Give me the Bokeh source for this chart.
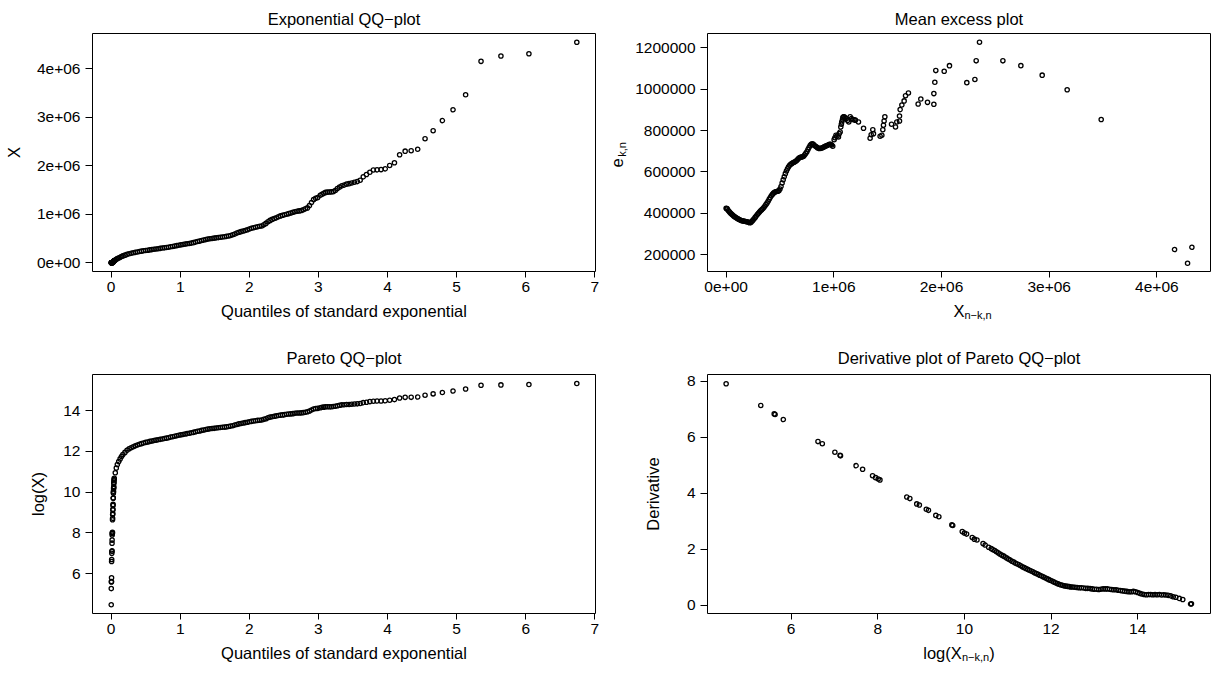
from bokeh.plotting import figure
from bokeh.models import Range1d, FixedTicker, Title
from bokeh.layouts import column, row
from bokeh.embed import file_html
from bokeh.resources import INLINE

FONT = "Liberation Sans"
TICK_SIZE = "15.5px"
TITLE_SIZE = "16.5px"
LAB_SIZE = "16.5px"
SUB_SIZE = "11px"
NBSP = "\u00a0"

# ---------------- data ----------------
# quantiles of standard exponential (x of both QQ plots)
qq_quantiles = [
    0.001, 0.002, 0.004, 0.005, 0.006, 0.007, 0.008, 0.010, 0.011, 0.012,
    0.013, 0.014, 0.015, 0.017, 0.018, 0.019, 0.020, 0.021, 0.022, 0.024,
    0.025, 0.026, 0.027, 0.028, 0.030, 0.031, 0.032, 0.033, 0.034, 0.036,
    0.037, 0.038, 0.039, 0.040, 0.041, 0.043,
    0.045, 0.06, 0.075, 0.09, 0.11, 0.13, 0.15, 0.17,
    0.20, 0.23, 0.26, 0.29, 0.32, 0.35, 0.38, 0.41, 0.44, 0.47,
    0.50, 0.53, 0.56, 0.59, 0.62, 0.65, 0.68, 0.71, 0.74, 0.77,
    0.80, 0.83, 0.86, 0.89, 0.92, 0.95, 0.98, 1.01, 1.04, 1.07,
    1.10, 1.13, 1.16, 1.19, 1.22, 1.25, 1.28, 1.31, 1.34, 1.37,
    1.40, 1.43, 1.46, 1.49, 1.52, 1.55, 1.58, 1.61, 1.64, 1.67,
    1.70, 1.73, 1.76, 1.79, 1.82, 1.85, 1.88, 1.91, 1.94, 1.97,
    2.00, 2.03, 2.06, 2.09, 2.12, 2.15, 2.18, 2.21, 2.24, 2.27,
    2.30, 2.33, 2.36, 2.39, 2.42, 2.45, 2.48, 2.51, 2.54, 2.57,
    2.60, 2.63, 2.66, 2.69, 2.72, 2.75, 2.78, 2.81, 2.84, 2.87,
    2.90, 2.93, 2.96, 2.99,
    3.027, 3.052, 3.077, 3.103, 3.130, 3.157, 3.185, 3.214, 3.244, 3.274,
    3.306, 3.339, 3.373, 3.408, 3.444, 3.482, 3.521, 3.562, 3.604, 3.649,
    3.695, 3.744, 3.795, 3.849, 3.906, 3.967, 4.031, 4.100, 4.175, 4.255,
    4.342, 4.437, 4.543, 4.660, 4.794, 4.948, 5.130, 5.353, 5.641, 6.046,
    6.739,
]

# ordered data X (millions) for the exponential QQ-plot
expqq_values_millions = [
    0, 0, 0, 0, 0, 0.001, 0.001, 0.001, 0.001, 0.001,
    0.002, 0.002, 0.003, 0.003, 0.003, 0.003, 0.006, 0.006, 0.007, 0.008,
    0.009, 0.010, 0.011, 0.012, 0.016, 0.017, 0.021, 0.022, 0.023, 0.026,
    0.027, 0.029, 0.034, 0.036, 0.039, 0.041,
    0.042, 0.055, 0.070, 0.085, 0.098, 0.113, 0.127, 0.140,
    0.155, 0.172, 0.185, 0.195, 0.205, 0.213, 0.222, 0.230, 0.238, 0.245,
    0.252, 0.258, 0.264, 0.270, 0.277, 0.283, 0.289, 0.296, 0.302, 0.306,
    0.312, 0.320, 0.328, 0.335, 0.342, 0.351, 0.360, 0.368, 0.375, 0.383,
    0.390, 0.397, 0.404, 0.413, 0.425, 0.437, 0.445, 0.456, 0.466, 0.476,
    0.486, 0.494, 0.500, 0.506, 0.512, 0.517, 0.523, 0.530, 0.535, 0.543,
    0.552, 0.562, 0.575, 0.590, 0.610, 0.627, 0.640, 0.652, 0.665, 0.680,
    0.696, 0.710, 0.722, 0.732, 0.741, 0.750, 0.758, 0.780, 0.810, 0.845,
    0.872, 0.893, 0.910, 0.925, 0.945, 0.965, 0.978, 0.988, 1.000, 1.012,
    1.025, 1.040, 1.052, 1.062, 1.068, 1.075, 1.090, 1.110, 1.130, 1.180,
    1.240, 1.300, 1.330, 1.345,
    1.39, 1.41, 1.43, 1.45, 1.455, 1.458, 1.46, 1.465, 1.49, 1.53,
    1.56, 1.585, 1.60, 1.62, 1.63, 1.645, 1.66, 1.672, 1.70, 1.77,
    1.82, 1.865, 1.912, 1.915, 1.92, 1.935, 2.006, 2.062, 2.225, 2.30,
    2.31, 2.34, 2.556, 2.722, 2.93, 3.153, 3.465, 4.152, 4.262, 4.31,
    4.545,
]

# log(X) for the Pareto QQ-plot
paretoqq_log_values = [
    4.48, 5.27, 5.60, 5.62, 5.80, 6.60, 6.70, 7.00, 7.10, 7.12,
    7.50, 7.65, 7.90, 7.97, 8.00, 8.03, 8.65, 8.72, 8.90, 8.95,
    9.12, 9.16, 9.35, 9.40, 9.70, 9.72, 9.95, 10.00, 10.05, 10.18,
    10.22, 10.28, 10.43, 10.48, 10.56, 10.62,
    10.68, 10.95, 11.18, 11.36, 11.50, 11.63, 11.75, 11.85,
    11.95, 12.05, 12.13, 12.18, 12.23, 12.27, 12.31, 12.35, 12.38, 12.41,
    12.44, 12.46, 12.49, 12.51, 12.53, 12.55, 12.57, 12.59, 12.61, 12.63,
    12.65, 12.67, 12.70, 12.72, 12.74, 12.77, 12.79, 12.81, 12.83, 12.85,
    12.87, 12.89, 12.91, 12.93, 12.96, 12.99, 13.00, 13.03, 13.05, 13.07,
    13.09, 13.11, 13.12, 13.13, 13.15, 13.16, 13.17, 13.18, 13.19, 13.20,
    13.22, 13.24, 13.26, 13.29, 13.32, 13.35, 13.37, 13.39, 13.41, 13.43,
    13.45, 13.47, 13.49, 13.50, 13.52, 13.53, 13.54, 13.57, 13.60, 13.65,
    13.68, 13.70, 13.72, 13.74, 13.76, 13.78, 13.79, 13.80, 13.82, 13.83,
    13.84, 13.85, 13.87, 13.88, 13.88, 13.89, 13.90, 13.92, 13.94, 13.98,
    14.03, 14.08, 14.10, 14.11,
    14.14, 14.16, 14.17, 14.19, 14.19, 14.19, 14.19, 14.20, 14.21, 14.24,
    14.26, 14.28, 14.29, 14.30, 14.30, 14.31, 14.32, 14.33, 14.35, 14.39,
    14.41, 14.44, 14.46, 14.47, 14.47, 14.48, 14.51, 14.54, 14.62, 14.65,
    14.65, 14.67, 14.75, 14.82, 14.89, 14.96, 15.06, 15.24, 15.26, 15.28,
    15.33,
]

# mean excess plot: thresholds X_{n-k,n} (millions) and e_{k,n} (thousands)
meanexcess_threshold_millions = [
    0.000, 0.005, 0.01, 0.02, 0.03, 0.04, 0.05, 0.06, 0.07, 0.08,
    0.09, 0.10, 0.11, 0.12, 0.13, 0.14, 0.15, 0.16, 0.17, 0.18,
    0.19, 0.20, 0.21, 0.22, 0.23, 0.24, 0.25, 0.26, 0.27, 0.28,
    0.29, 0.30, 0.31, 0.32, 0.33, 0.34, 0.35, 0.36, 0.37, 0.38,
    0.39, 0.40, 0.41, 0.42, 0.43, 0.44, 0.45, 0.46, 0.47, 0.48,
    0.49, 0.50, 0.51, 0.52, 0.53, 0.54, 0.55, 0.56, 0.57, 0.58,
    0.59, 0.60, 0.61, 0.62, 0.63, 0.64, 0.65, 0.66, 0.67, 0.68,
    0.69, 0.70, 0.71, 0.72, 0.73, 0.74, 0.75, 0.76, 0.77, 0.78,
    0.79, 0.80, 0.81, 0.82, 0.83, 0.84, 0.85, 0.86, 0.87, 0.88,
    0.89, 0.90, 0.91, 0.92, 0.93, 0.94, 0.95, 0.96, 0.97, 0.98,
    0.99,
    1.003, 1.010, 1.020, 1.030, 1.043, 1.050, 1.059, 1.065, 1.070, 1.074,
    1.080, 1.084, 1.090, 1.096, 1.105, 1.115, 1.128, 1.139, 1.152, 1.165,
    1.176, 1.188, 1.200, 1.229, 1.276, 1.337, 1.347, 1.362, 1.368, 1.430,
    1.446, 1.455, 1.461, 1.467, 1.474, 1.536, 1.573, 1.585, 1.610, 1.610,
    1.616, 1.632, 1.653, 1.666, 1.693, 1.783, 1.808, 1.870, 1.929, 1.929,
    1.938, 1.947, 2.025, 2.074, 2.235, 2.310, 2.322, 2.353, 2.570, 2.737,
    2.935, 3.167, 3.483, 4.164, 4.285, 4.325,
]
meanexcess_values_thousands = [
    425, 424, 422, 414, 408, 402, 397, 392, 388, 384,
    380, 377, 374, 371, 368, 366, 364, 363, 362, 361,
    360, 359, 357, 355, 356, 362, 368, 374, 381, 388,
    395, 401, 407, 413, 418, 423, 429, 436, 443, 450,
    459, 468, 477, 485, 492, 498, 502, 505, 506, 507,
    510, 518, 530, 547, 562, 577, 592, 605, 616, 625,
    632, 637, 641, 644, 647, 649, 653, 658, 664, 669,
    671, 672, 673, 676, 683, 690, 698, 708, 718, 727,
    733, 736, 733, 728, 724, 720, 716, 714, 713, 714,
    716, 718, 721, 724, 726, 728, 731, 734, 733, 730,
    724,
    756, 765, 777, 772, 769, 785, 793, 817, 830, 841,
    852, 862, 866, 866, 862, 858, 848, 841, 866, 858,
    853, 852, 850, 841, 811, 763, 780, 804, 785, 772,
    777, 804, 825, 846, 866, 830, 817, 841, 846, 870,
    901, 923, 943, 968, 981, 928, 952, 936, 927, 978,
    1033, 1089, 1086, 1113, 1031, 1046, 1136, 1226, 1136, 1113,
    1067, 997, 853, 226, 160, 237,
]

# derivative plot: log(X_{n-k,n}) and derivative
derivative_log_threshold = [
    4.50, 5.30, 5.61, 5.63, 5.82, 6.62, 6.72, 7.01, 7.13, 7.14,
    7.50, 7.65, 7.88, 7.95, 8.01, 8.05, 8.67, 8.74, 8.90, 8.96,
    9.12, 9.17, 9.34, 9.41, 9.71, 9.73, 9.95, 10.00, 10.05, 10.18,
    10.23, 10.29, 10.43, 10.48, 10.56, 10.62,
    10.66, 10.70, 10.74, 10.78, 10.82, 10.86, 10.90, 10.94, 10.98, 11.02,
    11.06, 11.10, 11.14, 11.18, 11.22, 11.26, 11.30, 11.34, 11.38, 11.42,
    11.46, 11.50, 11.54, 11.58, 11.62, 11.66, 11.70, 11.74, 11.78, 11.82,
    11.86, 11.90, 11.94, 11.98, 12.02, 12.06, 12.10, 12.14, 12.18, 12.22,
    12.26, 12.30, 12.34, 12.38, 12.42, 12.46, 12.50, 12.55, 12.60, 12.65,
    12.70, 12.75, 12.80, 12.85, 12.90, 12.95, 13.00, 13.05, 13.10, 13.15,
    13.20, 13.25, 13.30, 13.35, 13.40, 13.45, 13.50, 13.55, 13.60, 13.65,
    13.70, 13.75, 13.80, 13.85, 13.90, 13.95, 14.00, 14.05, 14.10, 14.15,
    14.20, 14.25, 14.30, 14.35, 14.40, 14.45, 14.50, 14.55, 14.60, 14.65,
    14.70, 14.76, 14.82, 14.88, 14.96, 15.04, 15.22, 15.24,
]
derivative_values = [
    7.92, 7.14, 6.84, 6.82, 6.64, 5.85, 5.77, 5.47, 5.36, 5.34,
    4.99, 4.86, 4.63, 4.56, 4.51, 4.48, 3.87, 3.81, 3.62, 3.58,
    3.43, 3.39, 3.21, 3.16, 2.87, 2.85, 2.63, 2.58, 2.54, 2.42,
    2.36, 2.33, 2.20, 2.15, 2.07, 2.02,
    1.98, 1.95, 1.91, 1.87, 1.83, 1.79, 1.76, 1.72, 1.68, 1.64,
    1.61, 1.57, 1.54, 1.50, 1.47, 1.44, 1.41, 1.37, 1.34, 1.31,
    1.28, 1.25, 1.22, 1.19, 1.16, 1.13, 1.10, 1.07, 1.04, 1.01,
    0.98, 0.95, 0.92, 0.89, 0.86, 0.83, 0.80, 0.77, 0.75, 0.73,
    0.71, 0.69, 0.68, 0.67, 0.66, 0.65, 0.65, 0.64, 0.63, 0.62,
    0.62, 0.61, 0.60, 0.60, 0.59, 0.58, 0.57, 0.57, 0.56, 0.57,
    0.58, 0.58, 0.58, 0.57, 0.56, 0.55, 0.55, 0.53, 0.52, 0.51,
    0.50, 0.49, 0.48, 0.48, 0.49, 0.48, 0.45, 0.42, 0.40, 0.38,
    0.37, 0.38, 0.38, 0.37, 0.38, 0.37, 0.38, 0.36, 0.37, 0.36,
    0.35, 0.33, 0.30, 0.28, 0.24, 0.20, 0.04, 0.05,
]

# tick labels
exp_x_ticks = [0, 1, 2, 3, 4, 5, 6, 7]
exp_y_ticks = [0, 1000000, 2000000, 3000000, 4000000]
exp_y_tick_labels = ["0e+00", "1e+06", "2e+06", "3e+06", "4e+06"]
me_x_ticks = [0, 1000000, 2000000, 3000000, 4000000]
me_x_tick_labels = ["0e+00", "1e+06", "2e+06", "3e+06", "4e+06"]
me_y_ticks = [200000, 400000, 600000, 800000, 1000000, 1200000]
me_y_tick_labels = ["200000", "400000", "600000", "800000", "1000000", "1200000"]
par_x_ticks = [0, 1, 2, 3, 4, 5, 6, 7]
par_y_ticks = [6, 8, 10, 12, 14]
der_x_ticks = [6, 8, 10, 12, 14]
der_y_ticks = [0, 2, 4, 6, 8]

assert len(qq_quantiles) == len(expqq_values_millions) == len(paretoqq_log_values)
assert len(meanexcess_threshold_millions) == len(meanexcess_values_thousands)
assert len(derivative_log_threshold) == len(derivative_values)

expqq_values = [v * 1e6 for v in expqq_values_millions]
me_x = [v * 1e6 for v in meanexcess_threshold_millions]
me_y = [v * 1e3 for v in meanexcess_values_thousands]


# ---------------- helpers ----------------
def make_fig(width, height, xr, yr, bl, br, bt, bb, title, title_standoff):
    p = figure(width=width, height=height,
               x_range=Range1d(*xr), y_range=Range1d(*yr),
               output_backend="svg", toolbar_location=None,
               min_border_left=bl, min_border_right=br,
               min_border_top=bt, min_border_bottom=bb)
    p.title.text = title
    p.title.align = "center"
    p.title.text_font = FONT
    p.title.text_font_size = TITLE_SIZE
    p.title.text_font_style = "normal"
    p.title.text_color = "black"
    p.title.standoff = title_standoff
    p.xgrid.visible = False
    p.ygrid.visible = False
    p.background_fill_color = "white"
    p.border_fill_color = "white"
    p.outline_line_color = "black"
    p.outline_line_width = 1
    p.outline_line_alpha = 1.0
    for ax in (p.xaxis[0], p.yaxis[0]):
        ax.axis_line_color = None
        ax.major_tick_in = 0
        ax.minor_tick_line_color = None
        ax.major_tick_line_color = "black"
        ax.major_label_text_font = FONT
        ax.major_label_text_font_size = TICK_SIZE
        ax.major_label_text_color = "black"
        ax.axis_label_text_font = FONT
        ax.axis_label_text_font_size = LAB_SIZE
        ax.axis_label_text_font_style = "normal"
        ax.axis_label_text_color = "black"
    p.xaxis.major_tick_out = 6
    p.yaxis.major_tick_out = 7
    p.xaxis.major_label_standoff = 4
    p.yaxis.major_label_standoff = 5
    p.xaxis.axis_label_standoff = 7
    return p


def set_ticks(axis, ticks, labels=None):
    axis.ticker = FixedTicker(ticks=ticks)
    if labels is None:
        labels = [str(t) for t in ticks]
    axis.major_label_overrides = {t: l for t, l in zip(ticks, labels)}


def side_text(p, side, s, offset, standoff, valign, size):
    t = Title(text=s, align="left", offset=offset, vertical_align=valign,
              text_font=FONT, text_font_size=size, text_font_style="normal",
              text_color="black")
    try:
        t.standoff = standoff
    except Exception:
        t.standoff = 0
    p.add_layout(t, side)


def pts(p, x, y):
    p.scatter(x, y, marker="circle", size=4.3, fill_color=None,
              line_color="black", line_width=1.3)


# ---------------- panel 1: exponential QQ ----------------
xr1 = (-0.2696, 7.0096)
yr1 = (-181800, 4726800)
p1 = make_fig(609, 336, xr1, yr1, 92, 14, 33, 65, "Exponential QQ\u2212plot", 12)
pts(p1, qq_quantiles, expqq_values)
set_ticks(p1.xaxis[0], exp_x_ticks)
set_ticks(p1.yaxis[0], exp_y_ticks, exp_y_tick_labels)
p1.xaxis.axis_label = "Quantiles of standard exponential"
p1.yaxis.axis_label = "X"
p1.yaxis.axis_label_standoff = 11

# ---------------- panel 2: mean excess ----------------
xr2 = (-173000, 4498000)
yr2 = (120000, 1268000)
p2 = make_fig(609, 336, xr2, yr2, 98, 8, 33, 65, "Mean excess plot", 12)
pts(p2, me_x, me_y)
set_ticks(p2.xaxis[0], me_x_ticks, me_x_tick_labels)
set_ticks(p2.yaxis[0], me_y_ticks, me_y_tick_labels)
# X_{n-k,n}
p2.xaxis.axis_label = "X"
side_text(p2, "below", "n\u2212k,n", 257, -27, "top", SUB_SIZE)
# e_{k,n} (rotated): subscript on the axis label, "e" in an outer panel
p2.yaxis.axis_label = NBSP * 2 + "k,n"
p2.yaxis.axis_label_text_font_size = SUB_SIZE
p2.yaxis.axis_label_standoff = 4
side_text(p2, "left", "e", 104, -18, "bottom", LAB_SIZE)

# ---------------- panel 3: Pareto QQ ----------------
xr3 = (-0.2696, 7.0096)
yr3 = (4.05, 15.77)
p3 = make_fig(609, 337, xr3, yr3, 92, 14, 38, 60, "Pareto QQ\u2212plot", 15)
pts(p3, qq_quantiles, paretoqq_log_values)
set_ticks(p3.xaxis[0], par_x_ticks)
set_ticks(p3.yaxis[0], par_y_ticks)
p3.xaxis.axis_label = "Quantiles of standard exponential"
p3.yaxis.axis_label = "log(X)"
p3.yaxis.axis_label_standoff = 13

# ---------------- panel 4: derivative plot ----------------
xr4 = (4.07, 15.68)
yr4 = (-0.3, 8.25)
p4 = make_fig(609, 337, xr4, yr4, 98, 8, 38, 60,
              "Derivative plot of Pareto QQ\u2212plot", 15)
pts(p4, derivative_log_threshold, derivative_values)
set_ticks(p4.xaxis[0], der_x_ticks)
set_ticks(p4.yaxis[0], der_y_ticks)
p4.xaxis.axis_label = "log(X" + NBSP * 6 + ")"
side_text(p4, "below", "n\u2212k,n", 254.5, -27, "top", SUB_SIZE)
p4.yaxis.axis_label = "Derivative"
p4.yaxis.axis_label_standoff = 22

layout = column(row(p1, p2), row(p3, p4))

with open("out.html", "w") as f:
    f.write(file_html(layout, INLINE, title="Extreme value plots"))
